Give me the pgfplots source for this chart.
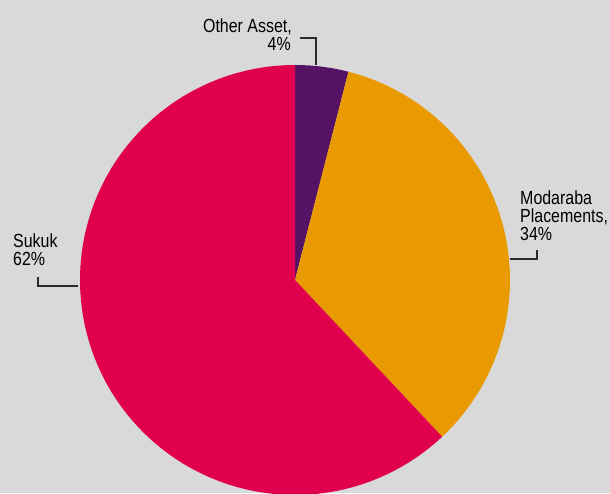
\documentclass[border=0pt]{standalone}
\usepackage{pgfplots}
\pgfplotsset{compat=1.18}
\usepackage{fontspec}
\setmainfont{Liberation Sans}[FakeStretch=0.84]
\definecolor{bg}{HTML}{D9D9D9}
\definecolor{cOther}{HTML}{561365}
\definecolor{cModa}{HTML}{E89A00}
\definecolor{cSukuk}{HTML}{E0004E}
\definecolor{lead}{HTML}{2A2A2A}
\tikzset{lbl/.style={font=\fontsize{19}{18}\selectfont,inner sep=0pt}}
% data (percent)
\def\vOther{4}
\def\vModa{34}
\def\vSukuk{62}
\begin{document}
\begin{tikzpicture}
\pgfmathsetmacro{\aA}{90}
\pgfmathsetmacro{\aB}{\aA-3.6*\vOther}
\pgfmathsetmacro{\aC}{\aB-3.6*\vModa}
\pgfmathsetmacro{\aD}{\aC-3.6*\vSukuk}
\begin{axis}[width=610pt,height=493pt,scale only axis,
  xmin=0,xmax=610,ymin=0,ymax=493,hide axis,clip=true]
\fill[bg] (axis cs:0,0) rectangle (axis cs:610,493);
\addplot[draw=none,fill=cOther,domain=\aA:\aB,samples=30]
  ({295+215*cos(x)},{213+215*sin(x)}) -- (axis cs:295,213) -- cycle;
\addplot[draw=none,fill=cModa,domain=\aB:\aC,samples=120]
  ({295+215*cos(x)},{213+215*sin(x)}) -- (axis cs:295,213) -- cycle;
\addplot[draw=none,fill=cSukuk,domain=\aC:\aD,samples=200]
  ({295+215*cos(x)},{213+215*sin(x)}) -- (axis cs:295,213) -- cycle;
% leader lines
\draw[lead,line width=1.3pt] (axis cs:300,455) -- (axis cs:316,455) -- (axis cs:316,428);
\draw[lead,line width=1.3pt] (axis cs:510,234) -- (axis cs:537,234) -- (axis cs:537,243);
\draw[lead,line width=1.3pt] (axis cs:38,216) -- (axis cs:38,207) -- (axis cs:78,207);
% labels, one node per line
\node[lbl,anchor=base east] at (axis cs:292,460) {Other Asset,};
\node[lbl,anchor=base east] at (axis cs:291,442) {4\%};
\node[lbl,anchor=base west] at (axis cs:520,288) {Modaraba};
\node[lbl,anchor=base west] at (axis cs:520,270) {Placements,};
\node[lbl,anchor=base west] at (axis cs:520,252) {34\%};
\node[lbl,anchor=base west] at (axis cs:13,245) {Sukuk};
\node[lbl,anchor=base west] at (axis cs:13,227) {62\%};
\end{axis}
\end{tikzpicture}
\end{document}
